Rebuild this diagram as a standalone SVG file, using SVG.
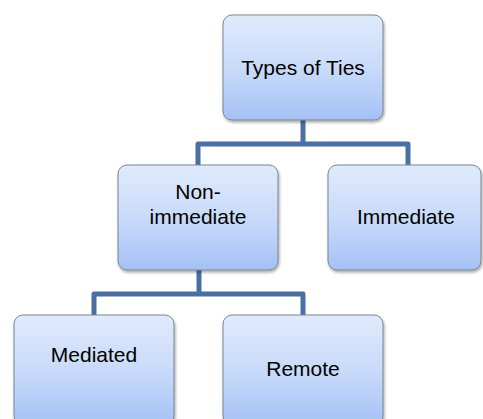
<svg xmlns="http://www.w3.org/2000/svg" width="483" height="419" viewBox="0 0 483 419">
<defs>
<linearGradient id="g" x1="0" y1="0" x2="0" y2="1">
<stop offset="0" stop-color="#e0eafc"/>
<stop offset="0.5" stop-color="#c9dbfa"/>
<stop offset="1" stop-color="#a4c1f5"/>
</linearGradient>
<filter id="sh" x="-10%" y="-10%" width="125%" height="130%">
<feDropShadow dx="1" dy="2" stdDeviation="1.6" flood-color="#000" flood-opacity="0.35"/>
</filter>
</defs>
<style>
.box{fill:url(#g);stroke:#7b8595;stroke-width:1;filter:url(#sh)}
.lbl{font-family:"Liberation Sans",Arial,sans-serif;font-size:21px;fill:#000;text-anchor:middle}
.con{fill:none;stroke:#4a70a3;stroke-width:5;stroke-linejoin:round}
</style>
<rect width="483" height="419" fill="#fff"/>
<g id="connectors">
<path class="con" d="M303 120 V144 M198 165 V144 H408 V165"/>
<path class="con" d="M199 270 V294 M94 315 V294 H303 V315"/>
</g>
<g id="types-of-ties">
<rect class="box" x="223" y="15" width="160" height="105" rx="9"/>
<text class="lbl" x="303" y="75">Types of Ties</text>
</g>
<g id="non-immediate">
<rect class="box" x="118" y="165" width="160" height="105" rx="9"/>
<text class="lbl" x="198" y="199">Non-</text>
<text class="lbl" x="198" y="224">immediate</text>
</g>
<g id="immediate">
<rect class="box" x="328" y="165" width="153" height="105" rx="9"/>
<text class="lbl" x="406" y="224">Immediate</text>
</g>
<g id="mediated">
<rect class="box" x="14" y="315" width="160" height="110" rx="9"/>
<text class="lbl" x="94" y="362">Mediated</text>
</g>
<g id="remote">
<rect class="box" x="223" y="315" width="160" height="110" rx="9"/>
<text class="lbl" x="303" y="376">Remote</text>
</g>
</svg>
